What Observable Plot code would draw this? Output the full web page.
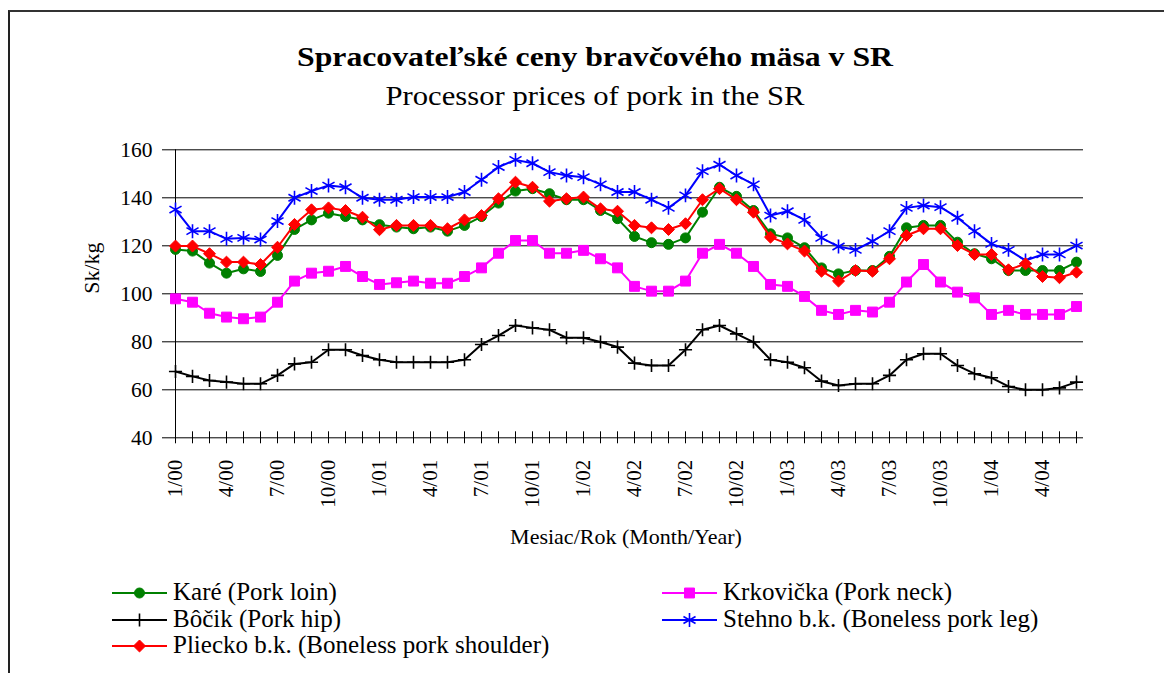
<!DOCTYPE html>
<html>
<head>
<meta charset="utf-8">
<script src="https://cdn.jsdelivr.net/npm/d3@7"></script>
<script src="https://cdn.jsdelivr.net/npm/@observablehq/plot@0.6"></script>
<style>
  body { margin: 0; background: white; }
  #wrap { position: relative; width: 1164px; height: 673px; overflow: hidden; background: white; font-family: "Liberation Serif", serif; }
  #frame { position: absolute; left: 8px; top: 10px; width: 1300px; height: 800px; border-left: 2px solid #222; border-top: 2px solid #333; }
  #chart { position: absolute; left: 0; top: 120px; }
  #overlay { position: absolute; left: 0; top: 0; }
</style>
</head>
<body>
<div id="wrap">
  <div id="frame"></div>
  <div id="chart"></div>
  <svg id="overlay" width="1164" height="673"></svg>
</div>
<script>
const months = [
  "1/00","2/00","3/00","4/00","5/00","6/00","7/00","8/00","9/00","10/00","11/00","12/00",
  "1/01","2/01","3/01","4/01","5/01","6/01","7/01","8/01","9/01","10/01","11/01","12/01",
  "1/02","2/02","3/02","4/02","5/02","6/02","7/02","8/02","9/02","10/02","11/02","12/02",
  "1/03","2/03","3/03","4/03","5/03","6/03","7/03","8/03","9/03","10/03","11/03","12/03",
  "1/04","2/04","3/04","4/04","5/04","6/04"
];
const xTickLabels = ["1/00","4/00","7/00","10/00","1/01","4/01","7/01","10/01","1/02","4/02","7/02","10/02","1/03","4/03","7/03","10/03","1/04","4/04"];
const yTicks = [40, 60, 80, 100, 120, 140, 160];

const kare = [118.5,117.8,112.8,108.6,110.4,109.3,116.0,126.8,130.8,133.6,132.2,130.8,128.8,127.8,127.1,127.8,126.1,
  128.5,132.2,137.8,142.8,143.8,141.7,139.2,139.2,134.7,131.3,123.9,121.3,120.6,123.3,134.0,144.4,140.6,134.7,125.0,123.3,
  119.2,110.8,108.3,109.7,109.7,115.6,127.5,128.5,128.5,121.5,116.7,114.6,109.7,109.7,109.7,109.7,113.2];
const krkovicka = [97.9,96.5,91.9,90.3,89.6,90.3,96.5,105.3,108.6,109.4,111.4,107.2,103.9,104.6,105.3,104.4,104.4,
  107.2,110.8,116.9,122.2,122.2,116.9,116.9,118.1,114.6,110.8,103.1,101.1,101.1,105.3,116.9,120.6,116.9,111.4,103.9,103.1,
  98.9,93.1,91.4,93.1,92.4,96.5,104.9,112.2,104.9,100.7,98.3,91.4,93.1,91.4,91.4,91.4,94.7];
const bocik = [67.6,65.6,63.9,63.2,62.5,62.5,66.0,70.8,71.5,76.7,76.7,74.3,72.5,71.5,71.5,71.5,71.5,
  72.5,78.9,82.6,86.8,85.8,85.0,81.7,81.7,79.9,77.8,71.1,70.1,70.1,76.7,85.0,86.8,83.3,79.9,72.5,71.5,
  69.2,63.6,61.8,62.5,62.5,66.0,72.5,75.0,75.0,70.1,66.7,65.0,61.4,60.0,60.0,60.8,63.2];
const stehno = [135.1,126.1,126.1,122.9,123.3,122.6,130.3,140.0,142.8,145.1,144.4,140.0,139.2,139.2,140.3,140.3,140.3,
  142.4,147.5,152.8,155.8,154.4,150.7,149.3,148.6,145.6,142.4,142.4,139.2,135.8,141.0,151.1,153.8,149.3,145.6,132.6,134.4,
  130.8,123.3,119.7,118.3,121.9,126.1,135.8,136.8,136.1,131.7,126.1,120.8,118.3,113.9,116.4,116.4,120.1];
const pliecko = [119.9,119.9,116.7,113.2,113.2,112.2,119.4,128.9,135.0,135.8,134.7,131.9,126.7,128.5,128.5,128.5,127.1,
  130.8,132.6,139.6,146.5,144.4,138.6,139.6,140.3,135.4,134.4,128.5,127.5,126.8,129.2,139.2,143.8,139.2,134.0,123.6,120.8,
  117.8,109.4,105.3,109.7,109.4,114.6,124.3,127.1,127.1,120.1,116.4,116.4,110.0,112.5,107.2,106.7,109.0];

const seriesNames = [
  "Karé (Pork loin)",
  "Krkovička (Pork neck)",
  "Bôčik (Pork hip)",
  "Stehno b.k. (Boneless pork leg)",
  "Pliecko b.k. (Boneless pork shoulder)"
];
const seriesValues = [kare, krkovicka, bocik, stehno, pliecko];
const seriesColors = ["#008000", "#ff00ff", "#000000", "#0000ff", "#ff0000"];
const seriesSymbols = ["circle", "square", "plus", "asterisk", "diamond2"];
const seriesR = [5, 5.6, 4.3, 6.6, 5.4];
const seriesFilled = [true, true, false, false, true];

const title = "Spracovateľské ceny bravčového mäsa v SR";
const subtitle = "Processor prices of pork in the SR";
const xTitle = "Mesiac/Rok (Month/Year)";
const yTitle = "Sk/kg";

const series = seriesNames.map((name, s) => ({
  name, color: seriesColors[s], symbol: seriesSymbols[s], r: seriesR[s], filled: seriesFilled[s],
  rows: months.map((m, i) => ({month: m, value: seriesValues[s][i]}))
}));

const marks = [
  Plot.gridY(yTicks, {stroke: "black", strokeOpacity: 1, strokeWidth: 1}),
  Plot.axisY(yTicks, {tickSize: 6, tickPadding: 10, fontSize: 21.5, label: null, stroke: "black"}),
  Plot.ruleX([months[0]], {stroke: "black", strokeWidth: 1}),
  Plot.ruleX(months, {x: d => d, y1: 40, y2: 40, insetTop: 6, insetBottom: 6, stroke: "black", strokeWidth: 1}),
  Plot.axisX(xTickLabels, {tickSize: 0, tickPadding: 22, tickRotate: -90, fontSize: 21, label: null}),
  Plot.text([xTitle], {text: d => d, frameAnchor: "bottom", dy: 99, fontSize: 22, lineAnchor: "middle", fill: "black"}),
  Plot.text([yTitle], {text: d => d, frameAnchor: "left", dx: -77, rotate: -90, fontSize: 22, lineAnchor: "middle", fill: "black"})
];
for (const s of series) {
  marks.push(Plot.line(s.rows, {x: "month", y: "value", stroke: s.color, strokeWidth: 2}));
  marks.push(Plot.dot(s.rows, {x: "month", y: "value", symbol: s.symbol, r: s.r,
    fill: s.filled ? s.color : "none", stroke: s.color, strokeWidth: s.filled ? 1 : 1.6}));
}

const chart = Plot.plot({
  width: 1164,
  height: 440,
  marginLeft: 168,
  marginRight: 81,
  marginTop: 29.3,
  marginBottom: 122.7,
  style: {fontFamily: "Liberation Serif", fontSize: "21px", color: "black", background: "transparent", overflow: "visible"},
  x: {type: "point", domain: months, padding: 0, axis: null},
  y: {domain: [40, 160], axis: null},
  marks
});
document.getElementById("chart").appendChild(chart);

// Titles and legend
const ov = d3.select("#overlay");
ov.append("text").attr("x", 595).attr("y", 66).attr("text-anchor", "middle")
  .attr("font-family", "Liberation Serif").attr("font-weight", "bold").attr("font-size", 28)
  .attr("textLength", 596).attr("lengthAdjust", "spacingAndGlyphs").text(title);
ov.append("text").attr("x", 595).attr("y", 105).attr("text-anchor", "middle")
  .attr("font-family", "Liberation Serif").attr("font-size", 28)
  .attr("textLength", 419).attr("lengthAdjust", "spacingAndGlyphs").text(subtitle);

const legendPos = [
  {x: 112, y: 593}, {x: 662, y: 593},
  {x: 112, y: 620}, {x: 662, y: 620},
  {x: 112, y: 646}
];
const symMap = {circle: d3.symbolCircle, square: d3.symbolSquare, plus: d3.symbolPlus, asterisk: d3.symbolAsterisk, diamond2: d3.symbolDiamond2};
series.forEach((s, k) => {
  const p = legendPos[k];
  const g = ov.append("g");
  g.append("line").attr("x1", p.x).attr("x2", p.x + 55).attr("y1", p.y).attr("y2", p.y)
    .attr("stroke", s.color).attr("stroke-width", 2);
  g.append("path").attr("transform", `translate(${p.x + 27.5},${p.y})`)
    .attr("d", d3.symbol(symMap[s.symbol], Math.PI * s.r * s.r)())
    .attr("fill", s.filled ? s.color : "none").attr("stroke", s.color).attr("stroke-width", s.filled ? 1 : 1.6);
  g.append("text").attr("x", p.x + 61).attr("y", p.y + 7)
    .attr("font-family", "Liberation Serif").attr("font-size", 25).attr("textLength", null)
    .attr("fill", "black").text(s.name);
});
</script>
</body>
</html>
